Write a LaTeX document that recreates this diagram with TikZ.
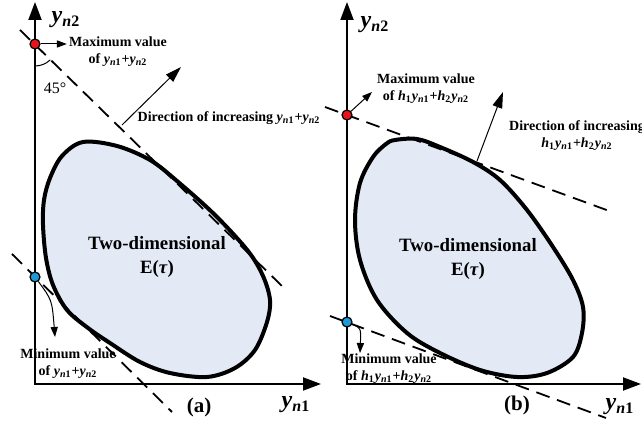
\documentclass[tikz,border=0pt]{standalone}
\usepackage{fontspec}
\setmainfont{Liberation Serif}
\usetikzlibrary{arrows.meta,positioning}
\definecolor{regionfill}{HTML}{E3EAF6}
\definecolor{maxred}{HTML}{E8141B}
\definecolor{minblue}{HTML}{1C9AD6}
\newcommand{\yv}[1]{\textbf{\textit{y}\textsubscript{\textit{n}#1}}}
\newcommand{\hv}[1]{\textbf{\textit{h}\textsubscript{#1}}}

\begin{document}
\begin{tikzpicture}[
            x=0.5pt, y=-0.5pt,
            font=\fontsize{7}{8.5}\selectfont\bfseries,
            axis/.style={line width=1pt, -{Triangle[length=9pt,width=6.5pt]}},
            tangent/.style={line width=0.9pt, dash pattern=on 7pt off 4pt},
            region/.style={line width=2pt, fill=regionfill},
            note/.style={align=center, inner sep=1pt},
            axlabel/.style={inner sep=0pt, font=\fontsize{12}{14}\selectfont\bfseries},
            caption/.style={inner sep=0pt, font=\fontsize{10.5}{12}\selectfont\bfseries},
            regionlabel/.style={align=center, inner sep=0pt,
                    font=\fontsize{9.4}{12}\selectfont\bfseries},
            dot/.style={circle, draw=black, line width=0.6pt, inner sep=0pt,
                    minimum size=5pt},
            arr/.style={-{Triangle[length=5pt,width=3.6pt]}, line width=0.5pt},
            dirarr/.style={-{Triangle[length=8pt,width=5pt]}, line width=0.5pt}
            ]
            \useasboundingbox (0,0) rectangle (642,421);

            % panel (a)
            \draw[region] plot[smooth cycle, tension=0.55] coordinates {
                    (83,142) (117,146) (150,160) (177,181) (215,215) (248,251)
                    (263,276) (270,300) (267,322) (255,350) (235,368) (207,377)
                    (170,373) (140,362) (110,343) (88,328) (67,310) (53,285)
                    (46,258) (43,225) (44,200) (50,178) (62,156)};
            \node[regionlabel] (rega) at (157,257)
            {Two-dimensional\\E(\textit{τ})};

            \coordinate (tana1) at (20,30);
            \coordinate (tana2) at (284,288);
            \coordinate (tana3) at (12,254);
            \coordinate (tana4) at (172,412);
            \draw[tangent] (tana1) -- (tana2);
            \draw[tangent] (tana3) -- (tana4);

            \coordinate (oa) at (35,384);
            \coordinate (yatip) at (35,2);
            \coordinate (xatip) at (321,384);
            \draw[axis] (35,385) -- (yatip);
            \draw[axis] (34.5,384) -- (xatip);
            \node[axlabel] (ya2) at (66,20) {\yv{2}};
            \node[axlabel] (ya1) at (296,405) {\yv{1}};
            \node[caption] (capa) at (199,407) {(a)};

            \node[dot, fill=maxred] (maxa) at (35,44) {};
            \node[note] (maxtxta) at (118,52)
            {Maximum value\\of \yv{1}+\yv{2}};
            \draw[arr] (maxa) -- (maxa -| maxtxta.west);
            \draw[line width=0.5pt] (35,66) arc[start angle=-90, end angle=-46, radius=11pt];
            \node[inner sep=0pt, font=\fontsize{8}{9}\selectfont] (anga) at (55,88) {45°};

            \coordinate (dira) at (122,125);
            \coordinate (diratip) at (181,67);
            \draw[dirarr] (dira) -- (diratip);
            \node[note] (dirtxta) at (229,118)
            {Direction of increasing \yv{1}+\yv{2}};

            \node[dot, fill=minblue] (mina) at (35,277) {};
            \coordinate (minatip) at (55,337);
            \draw[arr] (mina) .. controls (52,300) .. (minatip);
            \node[note] (mintxta) at (68,364)
            {Minimum value\\of \yv{1}+\yv{2}};

            % panel (b)
            \draw[region] plot[smooth cycle, tension=0.55] coordinates {
                    (395,140) (417,139) (440,147) (473,162) (500,180) (527,210)
                    (553,247) (573,280) (583,307) (582,333) (573,357) (547,373)
                    (517,377) (480,370) (440,353) (407,333) (377,300) (360,260)
                    (355,220) (360,183) (373,157) (386,144)};
            \node[regionlabel] (regb) at (468,259)
            {Two-dimensional\\E(\textit{τ})};

            \coordinate (tanb1) at (325,107);
            \coordinate (tanb2) at (612,212);
            \coordinate (tanb3) at (330,316);
            \coordinate (tanb4) at (606,418);
            \draw[tangent] (tanb1) -- (tanb2);
            \draw[tangent] (tanb3) -- (tanb4);

            \coordinate (ob) at (347,384);
            \coordinate (ybtip) at (347,2);
            \coordinate (xbtip) at (641,384);
            \draw[axis] (347,385) -- (ybtip);
            \draw[axis] (346.5,384) -- (xbtip);
            \node[axlabel] (yb2) at (375,25) {\yv{2}};
            \node[axlabel] (yb1) at (620,407) {\yv{1}};
            \node[caption] (capb) at (517,405) {(b)};

            \node[dot, fill=maxred] (maxb) at (347,115) {};
            \coordinate (maxbtip) at (372,92);
            \draw[arr] (maxb) -- (maxbtip);
            \node[note] (maxtxtb) at (426,89)
            {Maximum value\\of \hv{1}\yv{1}+\hv{2}\yv{2}};

            \coordinate (dirb) at (477,161);
            \coordinate (dirbtip) at (503,92);
            \draw[dirarr] (dirb) -- (dirbtip);
            \node[note] (dirtxtb) at (577,136)
            {Direction of increasing\\\hv{1}\yv{1}+\hv{2}\yv{2}};

            \node[dot, fill=minblue] (minb) at (347,322) {};
            \coordinate (minbtip) at (360,353);
            \draw[arr] (minb) .. controls (361,328) .. (minbtip);
            \node[note] (mintxtb) at (389,369)
            {Minimum value\\of \hv{1}\yv{1}+\hv{2}\yv{2}};
        \end{tikzpicture}
\end{document}
